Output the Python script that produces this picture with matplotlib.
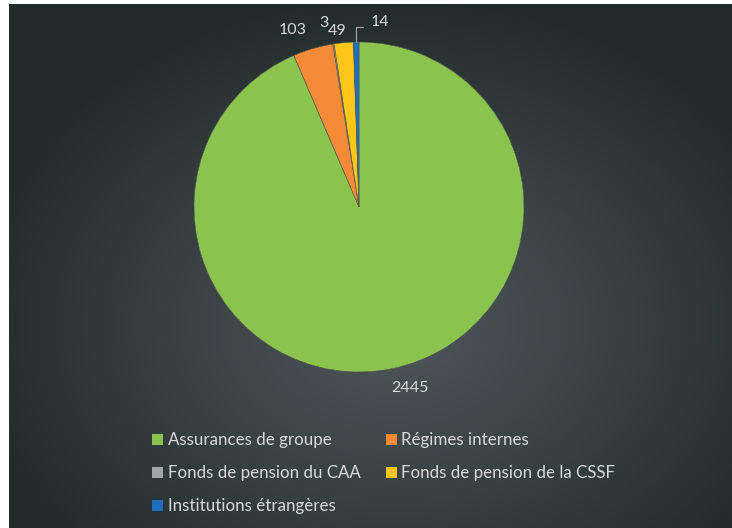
import numpy as np
import matplotlib.pyplot as plt
from matplotlib.colors import LinearSegmentedColormap

plt.rcParams['font.family'] = ['Lato', 'DejaVu Sans']

# data
categories = ['Assurances de groupe', 'Régimes internes', 'Fonds de pension du CAA',
              'Fonds de pension de la CSSF', 'Institutions étrangères']
values = [2445, 103, 3, 49, 14]
colors = ['#8BC34F', '#F58B36', '#A5A5A5', '#FFC61A', '#1F6FC0']
text_color = '#D9D9D9'

W, H = 732, 528
fig = plt.figure(figsize=(W / 100, H / 100), dpi=100, facecolor='white')

# dark radial-gradient background (white strip on left and top)
bg = fig.add_axes([9 / W, 0, (W - 9) / W, (H - 4) / H])
yy, xx = np.mgrid[0:H - 4, 0:W - 9]
d = np.sqrt(((xx - 385) / 430) ** 2 + ((yy - 320) / 330) ** 2)
cmap = LinearSegmentedColormap.from_list('bg', ['#4F575A', '#3A4244', '#222B2C'])
bg.imshow(np.clip(d, 0, 1), cmap=cmap, vmin=0, vmax=1, aspect='auto')
bg.axis('off')

# pie
cx, cy, r = 359, 207, 165
ax = fig.add_axes([(cx - r) / W, (H - cy - r) / H, 2 * r / W, 2 * r / H])
wedges, _ = ax.pie(values, colors=colors, startangle=90, counterclock=False,
                   wedgeprops=dict(edgecolor='#555555', linewidth=0.4))
ax.set_xlim(-1, 1)
ax.set_ylim(-1, 1)
ax.set_aspect('equal')
ax.axis('off')

# data labels (Excel best-fit style positions)
label_pos = [(0.309, -1.10), (-0.40, 1.07), (-0.215, 1.115), (-0.135, 1.065), (0.125, 1.12)]
for v, w, (lx, ly) in zip(values, wedges, label_pos):
    if v == 14:
        mid = np.deg2rad((w.theta1 + w.theta2) / 2)
        ax.annotate(str(v), xy=(np.cos(mid), np.sin(mid)), xytext=(lx, ly),
                    ha='center', va='center', fontsize=11.5, color=text_color,
                    annotation_clip=False,
                    arrowprops=dict(arrowstyle='-', color='#A6A6A6', lw=0.8,
                                    shrinkA=3, shrinkB=0, relpos=(0, 0.15),
                                    connectionstyle='angle,angleA=0,angleB=90,rad=0'))
    else:
        ax.text(lx, ly, str(v), ha='center', va='center', fontsize=11.5,
                color=text_color, clip_on=False)

# legend, filled row by row
order = [0, 2, 4, 1, 3]
leg = fig.legend([wedges[i] for i in order], [categories[i] for i in order],
                 ncol=2, loc='upper left', bbox_to_anchor=(137 / W, 1 - 417 / H),
                 frameon=False, fontsize=12.2, labelcolor=text_color,
                 handlelength=0.65, handleheight=0.65, handletextpad=0.25,
                 labelspacing=1.0, columnspacing=1.5)
for h in leg.legend_handles:
    h.set_linewidth(0)

plt.savefig('out.png', dpi=100, facecolor=fig.get_facecolor())
